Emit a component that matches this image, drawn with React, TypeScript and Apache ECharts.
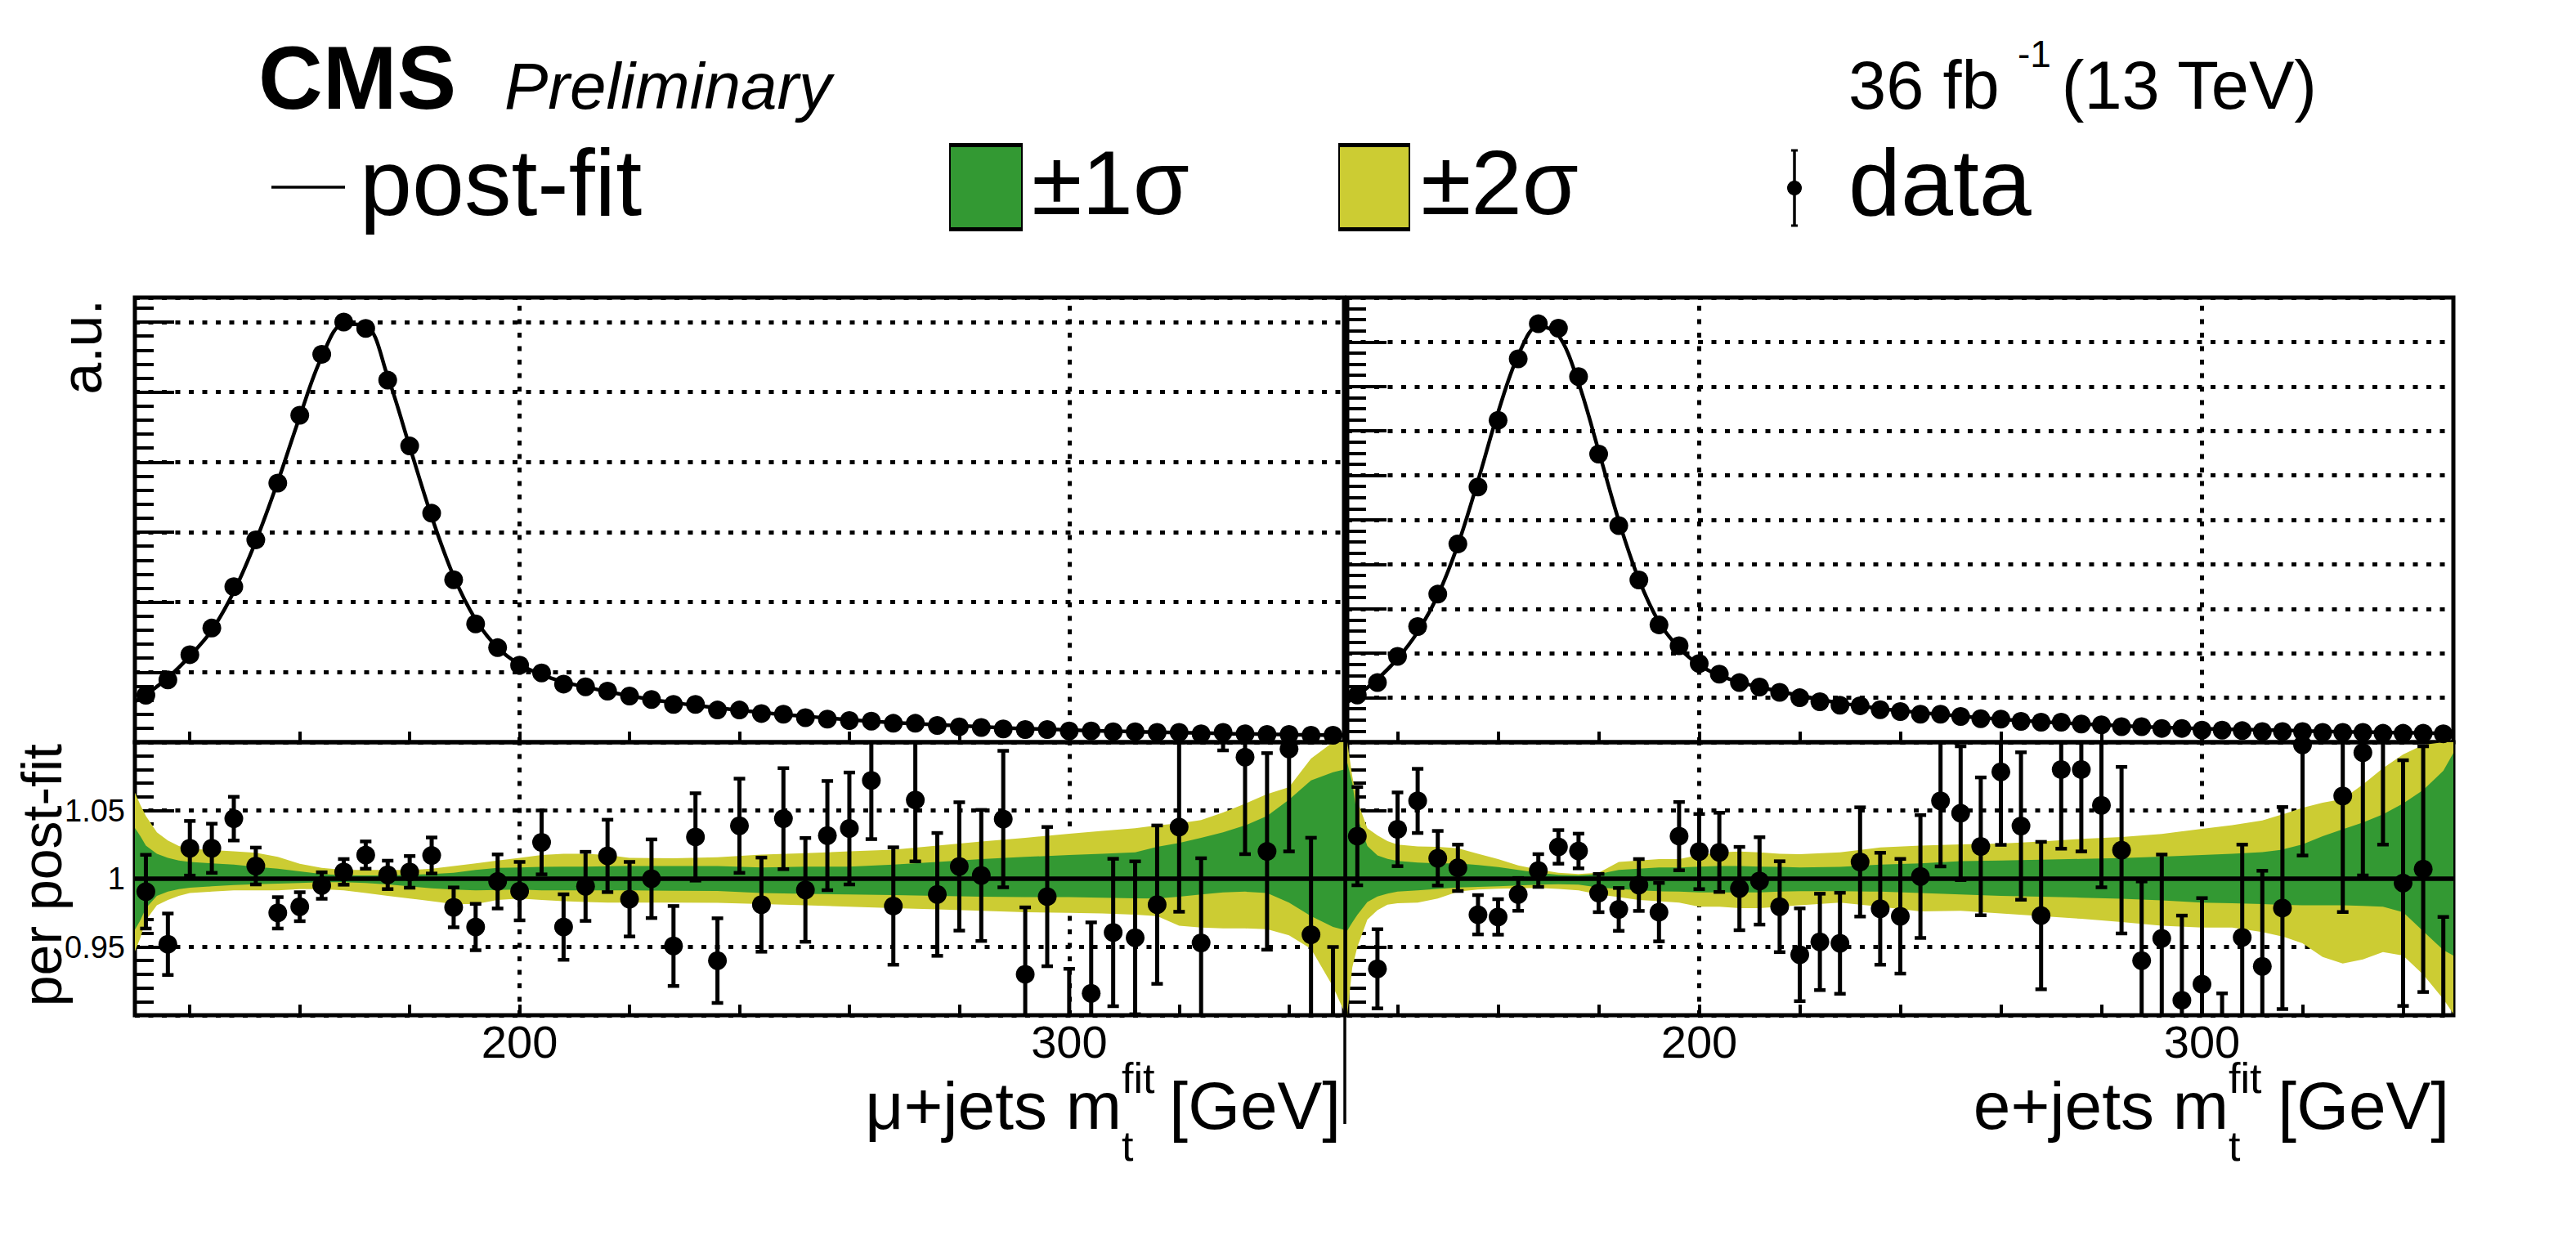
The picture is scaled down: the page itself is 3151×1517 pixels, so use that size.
import React, { useEffect, useRef } from 'react';
import * as echarts from 'echarts';

const FONT = '"Liberation Sans", Arial, Helvetica, sans-serif';

// ---------- axes / ticks ----------
const X_MIN = 130;
const X_MAX = 350;
const X_TICKS = [140, 160, 180, 200, 220, 240, 260, 280, 300, 320, 340];
const X_LABELS = [200, 300];
const X_GRID = [200, 300];
const RATIO_MIN = 0.9;
const RATIO_MAX = 1.1;
const MU_YMAX = 6.35;
const E_YMAX = 10;

// bin centres (4 GeV bins from 130 to 350)
const BIN_CENTERS = Array.from({ length: 55 }, (_, i) => 132 + 4 * i);

// ---------- upper panels: data (a.u.) ----------
const MU_DATA = [
  0.67, 0.89, 1.25, 1.63, 2.22, 2.89, 3.70, 4.67, 5.54, 6.00,
  5.91, 5.17, 4.23, 3.27, 2.32, 1.69, 1.35, 1.10, 0.99, 0.83,
  0.79, 0.73, 0.66, 0.61, 0.54, 0.54, 0.46, 0.46, 0.41, 0.40,
  0.35, 0.33, 0.31, 0.30, 0.27, 0.27, 0.24, 0.22, 0.21, 0.19,
  0.18, 0.18, 0.16, 0.16, 0.15, 0.15, 0.14, 0.14, 0.12, 0.14,
  0.12, 0.11, 0.11, 0.10, 0.10,
];
const E_DATA = [
  1.06, 1.34, 1.93, 2.60, 3.33, 4.46, 5.74, 7.24, 8.62, 9.41,
  9.31, 8.22, 6.48, 4.87, 3.65, 2.64, 2.17, 1.77, 1.53, 1.34,
  1.24, 1.12, 1.00, 0.91, 0.83, 0.82, 0.73, 0.69, 0.63, 0.63,
  0.58, 0.53, 0.52, 0.47, 0.45, 0.45, 0.41, 0.39, 0.35, 0.35,
  0.31, 0.31, 0.27, 0.27, 0.26, 0.24, 0.24, 0.24, 0.22, 0.22,
  0.22, 0.20, 0.20, 0.20, 0.19,
];

// post-fit curve: left edge, bin centres, right edge
const FIT_X = [X_MIN, ...BIN_CENTERS, X_MAX];
const MU_FIT = [
  0.58,
  0.68, 0.92, 1.23, 1.60, 2.15, 2.87, 3.72, 4.65, 5.50, 5.97,
  5.95, 5.22, 4.22, 3.22, 2.37, 1.75, 1.35, 1.11, 0.965, 0.86,
  0.79, 0.72, 0.665, 0.61, 0.565, 0.525, 0.49, 0.455, 0.425, 0.395,
  0.37, 0.345, 0.32, 0.30, 0.28, 0.265, 0.25, 0.235, 0.22, 0.205,
  0.195, 0.185, 0.175, 0.165, 0.157, 0.15, 0.143, 0.136, 0.13, 0.124,
  0.118, 0.113, 0.108, 0.104, 0.10,
  0.098,
];
const E_FIT = [
  0.90,
  1.05, 1.42, 1.88, 2.48, 3.30, 4.44, 5.88, 7.42, 8.70, 9.36,
  9.15, 8.08, 6.55, 4.98, 3.66, 2.70, 2.12, 1.74, 1.50, 1.35,
  1.24, 1.14, 1.05, 0.96, 0.88, 0.815, 0.755, 0.71, 0.665, 0.625,
  0.585, 0.55, 0.515, 0.485, 0.46, 0.435, 0.41, 0.39, 0.37, 0.35,
  0.335, 0.32, 0.305, 0.295, 0.285, 0.275, 0.265, 0.255, 0.245, 0.235,
  0.228, 0.22, 0.213, 0.207, 0.20,
  0.198,
];

// ---------- ratio panels: data / post-fit ----------
const MU_RATIO = [
  0.9905, 0.952, 1.0223, 1.0223, 1.044, 1.0093, 0.975, 0.9795, 0.995, 1.005,
  1.0173, 1.0028, 1.005, 1.017, 0.979, 0.9646, 0.998, 0.9909, 1.0266, 0.9646,
  0.9944, 1.0167, 0.985, 1.0, 0.9507, 1.0306, 0.940, 1.0388, 0.981, 1.044,
  0.9918, 1.0316, 1.0368, 1.072, 0.980, 1.0577, 0.9885, 1.009, 1.0024, 1.0437,
  0.930, 0.9869, 0.880, 0.916, 0.9606, 0.9567, 0.981, 1.0378, 0.953, 1.160,
  1.089, 1.020, 1.095, 0.959, 0.870,
];
const MU_RATIO_ERR = [
  0.027, 0.0225, 0.020, 0.018, 0.016, 0.0135, 0.0115, 0.0106, 0.0097, 0.0094,
  0.010, 0.0104, 0.0116, 0.0132, 0.0146, 0.017, 0.0198, 0.0214, 0.0234, 0.024,
  0.0253, 0.0265, 0.0273, 0.0288, 0.0293, 0.032, 0.031, 0.0345, 0.0345, 0.037,
  0.038, 0.040, 0.041, 0.043, 0.043, 0.045, 0.045, 0.047, 0.048, 0.050,
  0.049, 0.051, 0.054, 0.052, 0.054, 0.056, 0.058, 0.062, 0.062, 0.066,
  0.071, 0.072, 0.075, 0.071, 0.080,
];
const E_RATIO = [
  1.0312, 0.934, 1.0362, 1.057, 1.015, 1.008, 0.9736, 0.972, 0.9885, 1.006,
  1.0233, 1.0203, 0.9895, 0.9775, 0.9954, 0.9755, 1.0312, 1.0199, 1.0193, 0.9928,
  0.9984, 0.9795, 0.9443, 0.9537, 0.9527, 1.0123, 0.978, 0.9725, 1.0016, 1.057,
  1.048, 1.0237, 1.0783, 1.0386, 0.973, 1.080, 1.080, 1.0537, 1.0209, 0.940,
  0.9563, 0.911, 0.9228, 0.852, 0.957, 0.9358, 0.9785, 1.098, 1.190, 1.0606,
  1.0924, 1.115, 0.9968, 1.007, 0.880,
];
const E_RATIO_ERR = [
  0.036, 0.029, 0.027, 0.0235, 0.020, 0.017, 0.0144, 0.013, 0.012, 0.012,
  0.0123, 0.0127, 0.014, 0.0157, 0.019, 0.0214, 0.025, 0.0275, 0.029, 0.0305,
  0.032, 0.0333, 0.034, 0.0353, 0.037, 0.040, 0.041, 0.042, 0.045, 0.048,
  0.049, 0.0505, 0.0535, 0.054, 0.054, 0.058, 0.060, 0.060, 0.061, 0.058,
  0.0614, 0.062, 0.063, 0.064, 0.068, 0.070, 0.074, 0.081, 0.083, 0.085,
  0.090, 0.090, 0.090, 0.090, 0.092,
];
const POST_FIT_RATIO = 1;

// ---------- uncertainty bands (relative to post-fit) ----------
const BAND_X = [
  130, 131, 132, 134, 136, 138, 140, 144, 148, 152, 156, 160, 164, 168, 172, 176, 180,
  184, 188, 192, 196, 200, 204, 208, 212, 216, 220, 228, 236, 244, 252, 260, 268, 276,
  284, 292, 300, 306, 312, 316, 320, 324, 328, 332, 336, 340, 344, 348, 350,
];
const MU_2S_UP = [
  1.063, 1.054, 1.046, 1.034, 1.028, 1.024, 1.022,
  1.021, 1.020, 1.019, 1.016, 1.011, 1.008, 1.0064, 1.0064, 1.0064, 1.0064,
  1.0074, 1.0093, 1.0113, 1.0133, 1.0153, 1.0173, 1.0183, 1.0183, 1.0173, 1.0153,
  1.0149, 1.0157, 1.0177, 1.0187, 1.020, 1.0213, 1.0243, 1.0272, 1.030, 1.033,
  1.035, 1.037, 1.039, 1.0406, 1.043, 1.0485, 1.055, 1.062, 1.067, 1.088,
  1.105, 1.11,
];
const MU_2S_DN = [
  0.9467, 0.9567, 0.9696, 0.9805, 0.9845, 0.9875, 0.9895,
  0.9905, 0.9915, 0.9915, 0.9915, 0.9924, 0.9924, 0.9915, 0.9895, 0.9875, 0.9855,
  0.9835, 0.9815, 0.9815, 0.9845, 0.9855, 0.9845, 0.9835, 0.9829, 0.9825, 0.9825,
  0.9825, 0.9823, 0.9815, 0.9805, 0.9795, 0.9785, 0.9775, 0.9765, 0.9755, 0.975,
  0.9745, 0.9736, 0.9726, 0.9656, 0.9642, 0.9636, 0.9636, 0.963, 0.9586, 0.9487,
  0.921, 0.903,
];
const MU_1S_UP = [
  1.0372, 1.0312, 1.0243, 1.0183, 1.0153, 1.0133, 1.0123,
  1.0113, 1.0103, 1.0087, 1.0074, 1.0054, 1.0034, 1.0024, 1.0024, 1.0024, 1.0028,
  1.0034, 1.0044, 1.0064, 1.008, 1.0083, 1.0087, 1.0089, 1.0089, 1.0091, 1.0093,
  1.0093, 1.0093, 1.0083, 1.0089, 1.0089, 1.0103, 1.0123, 1.0143, 1.016, 1.0173,
  1.0183, 1.0193, 1.0233, 1.0262, 1.030, 1.034, 1.039, 1.046, 1.058, 1.072,
  1.078, 1.080,
];
const MU_1S_DN = [
  0.9626, 0.9696, 0.9785, 0.9875, 0.9905, 0.9924, 0.9934,
  0.9944, 0.9954, 0.996, 0.9964, 0.9968, 0.9974, 0.9974, 0.9968, 0.9958, 0.9944,
  0.993, 0.992, 0.9915, 0.9918, 0.992, 0.9915, 0.9915, 0.9915, 0.9915, 0.9915,
  0.9912, 0.991, 0.9895, 0.9889, 0.9885, 0.988, 0.9875, 0.9869, 0.9865, 0.9865,
  0.9861, 0.9857, 0.9855, 0.9869, 0.9885, 0.99, 0.9905, 0.9895, 0.9825, 0.9726,
  0.9646, 0.9626,
];
const E_2S_UP = [
  1.11, 1.075, 1.057, 1.037, 1.0317, 1.0275, 1.025,
  1.0237, 1.0233, 1.0223, 1.0183, 1.0143, 1.0097, 1.0068, 1.0044, 1.0034, 1.0044,
  1.0123, 1.0133, 1.0143, 1.0143, 1.0173, 1.0193, 1.0199, 1.0193, 1.0183, 1.0179,
  1.0193, 1.0229, 1.0243, 1.0252, 1.0258, 1.0272, 1.0292, 1.0306, 1.0328, 1.0366,
  1.0392, 1.0427, 1.0471, 1.052, 1.0557, 1.0584, 1.069, 1.081, 1.091, 1.098,
  1.11, 1.12,
];
const E_2S_DN = [
  0.895, 0.935, 0.950, 0.970, 0.977, 0.981, 0.982,
  0.9825, 0.9855, 0.9905, 0.992, 0.9926, 0.993, 0.9932, 0.9925, 0.9915, 0.9885,
  0.9865, 0.9845, 0.9835, 0.9825, 0.9795, 0.9795, 0.9785, 0.9785, 0.9795, 0.9805,
  0.9825, 0.9795, 0.976, 0.9765, 0.9746, 0.9726, 0.9706, 0.9682, 0.9656, 0.9642,
  0.9642, 0.961, 0.9577, 0.9527, 0.9427, 0.9378, 0.9408, 0.9463, 0.9437, 0.9298,
  0.9119, 0.901,
];
const E_1S_UP = [
  1.085, 1.07, 1.045, 1.024, 1.017, 1.0145, 1.013,
  1.0118, 1.0113, 1.0113, 1.010, 1.0085, 1.0065, 1.0044, 1.0028, 1.0024, 1.0034,
  1.0064, 1.0074, 1.0083, 1.0083, 1.0089, 1.0093, 1.0093, 1.0089, 1.0087, 1.0083,
  1.0087, 1.0103, 1.0113, 1.0129, 1.0133, 1.0139, 1.0145, 1.0151, 1.0161, 1.0173,
  1.0183, 1.0195, 1.0213, 1.0252, 1.0312, 1.0362, 1.0412, 1.0471, 1.0551, 1.065,
  1.079, 1.092,
];
const E_1S_DN = [
  0.962, 0.968, 0.9735, 0.983, 0.987, 0.989, 0.9905,
  0.9915, 0.9925, 0.9935, 0.994, 0.9944, 0.995, 0.9956, 0.996, 0.9956, 0.9935,
  0.9925, 0.9915, 0.9908, 0.9905, 0.99, 0.99, 0.99, 0.99, 0.9905, 0.9909,
  0.9909, 0.9905, 0.9895, 0.9885, 0.9875, 0.9869, 0.9861, 0.9853, 0.9841, 0.9825,
  0.9821, 0.9815, 0.9809, 0.9805, 0.9805, 0.9805, 0.9801, 0.9795, 0.9755, 0.9616,
  0.9477, 0.9437,
];

const GREEN = '#339933';
const YELLOW = '#cccc33';
const BLACK = '#000000';

const clampR = (v: number) => Math.min(RATIO_MAX, Math.max(RATIO_MIN, v));

const DOT = [6, 10.5];

function xAxis(gridIndex: number, labels: boolean) {
  return {
    type: 'value', gridIndex, min: X_MIN, max: X_MAX,
    axisLine: { show: false, onZero: false },
    axisTick: { show: true, inside: true, length: 13, customValues: X_TICKS, lineStyle: { color: BLACK, width: 4 } },
    axisLabel: labels
      ? { show: true, customValues: X_LABELS, fontSize: 56, fontFamily: FONT, color: BLACK, margin: 4 }
      : { show: false },
    splitLine: { show: false },
  };
}

function yMajor(gridIndex: number, min: number, max: number, interval: number, labels: boolean) {
  return {
    type: 'value', gridIndex, position: 'left', min, max, interval,
    axisLine: { show: false, onZero: false },
    axisTick: { show: true, inside: true, length: 48, lineStyle: { color: BLACK, width: 4 } },
    axisLabel: labels
      ? {
          show: true, fontSize: 38, fontFamily: FONT, color: BLACK, margin: 12,
          formatter: (v: number) => (v < 0.93 || v > 1.07 ? '' : String(Math.round(v * 100) / 100)),
        }
      : { show: false },
    splitLine: { show: true, lineStyle: { color: BLACK, width: 5, type: DOT } },
  };
}

function yMinor(gridIndex: number, min: number, max: number, interval: number) {
  return {
    type: 'value', gridIndex, position: 'left', min, max, interval,
    axisLine: { show: false, onZero: false },
    axisTick: { show: true, inside: true, length: 23, lineStyle: { color: BLACK, width: 4 } },
    axisLabel: { show: false },
    splitLine: { show: false },
  };
}

const vGrid = {
  silent: true, symbol: 'none', z: 1,
  label: { show: false },
  emphasis: { disabled: true },
  lineStyle: { color: BLACK, width: 5, type: DOT },
  data: X_GRID.map((v) => ({ xAxis: v })),
};

function bandSeries(xi: number, yi: number, lo: number[], hi: number[], color: string, z: number) {
  return {
    type: 'custom', xAxisIndex: xi, yAxisIndex: yi, z, silent: true, clip: true,
    data: BAND_X.map((x, i) => [x, lo[i], hi[i]]),
    encode: { x: 0, y: [1, 2] },
    renderItem: (params: any, api: any) => {
      if (params.dataIndex !== 0) return { type: 'group', children: [] };
      const up = BAND_X.map((x, i) => api.coord([x, clampR(hi[i])]));
      const dn = BAND_X.map((x, i) => api.coord([x, clampR(lo[i])])).reverse();
      return { type: 'polygon', shape: { points: up.concat(dn) }, style: { fill: color } };
    },
  };
}

function errSeries(xi: number, yi: number, vals: number[], errs: number[]) {
  return {
    type: 'custom', xAxisIndex: xi, yAxisIndex: yi, z: 5, silent: true, clip: true,
    data: BIN_CENTERS.map((x, i) => [x, vals[i], errs[i]]),
    encode: { x: 0, y: 1 },
    renderItem: (params: any, api: any) => {
      const x = api.value(0);
      const v = api.value(1);
      const e = api.value(2);
      const lo = Math.max(v - e, RATIO_MIN);
      const hi = Math.min(v + e, RATIO_MAX);
      if (lo >= hi) return { type: 'group', children: [] };
      const p1 = api.coord([x, lo]);
      const p2 = api.coord([x, hi]);
      const children: any[] = [
        { type: 'line', shape: { x1: p1[0], y1: p1[1], x2: p2[0], y2: p2[1] }, style: { stroke: BLACK, lineWidth: 5 } },
      ];
      if (v - e >= RATIO_MIN) children.push({ type: 'line', shape: { x1: p1[0] - 7, y1: p1[1], x2: p1[0] + 7, y2: p1[1] }, style: { stroke: BLACK, lineWidth: 4.5 } });
      if (v + e <= RATIO_MAX) children.push({ type: 'line', shape: { x1: p2[0] - 7, y1: p2[1], x2: p2[0] + 7, y2: p2[1] }, style: { stroke: BLACK, lineWidth: 4.5 } });
      return { type: 'group', children };
    },
  };
}

function points(xi: number, yi: number, vals: number[]) {
  return {
    type: 'scatter', xAxisIndex: xi, yAxisIndex: yi, z: 6, silent: true, clip: true,
    symbol: 'circle', symbolSize: 23,
    itemStyle: { color: BLACK, opacity: 1 },
    emphasis: { disabled: true },
    data: BIN_CENTERS.map((x, i) => [x, vals[i]]),
  };
}

function fitLine(xi: number, yi: number, vals: number[]) {
  return {
    type: 'line', xAxisIndex: xi, yAxisIndex: yi, z: 4, silent: true,
    smooth: 0.35, symbol: 'none',
    lineStyle: { color: BLACK, width: 4.5 },
    data: FIT_X.map((x, i) => [x, vals[i]]),
    markLine: vGrid,
  };
}

function ratioLine(xi: number, yi: number) {
  return {
    type: 'line', xAxisIndex: xi, yAxisIndex: yi, z: 4, silent: true,
    symbol: 'none',
    lineStyle: { color: BLACK, width: 5.5 },
    data: [[X_MIN, POST_FIT_RATIO], [X_MAX, POST_FIT_RATIO]],
    markLine: vGrid,
  };
}

function txt(text: string, x: number, y: number, size: number, align: string, extra: any = {}) {
  return {
    type: 'text', x, y, z: 100, silent: true, ...extra,
    style: {
      text, fill: BLACK, fontSize: size, fontFamily: FONT,
      align, verticalAlign: 'middle', ...(extra.style || {}),
    },
  };
}

function buildOption() {
  const gridStyle = { show: true, borderColor: BLACK, borderWidth: 5, backgroundColor: 'transparent' };
  return {
    animation: false,
    grid: [
      { left: 165, top: 364, width: 1479, height: 544, ...gridStyle },
      { left: 165, top: 908, width: 1479, height: 334, ...gridStyle },
      { left: 1648, top: 364, width: 1353, height: 544, ...gridStyle },
      { left: 1648, top: 908, width: 1353, height: 334, ...gridStyle },
    ],
    xAxis: [xAxis(0, false), xAxis(1, true), xAxis(2, false), xAxis(3, true)],
    yAxis: [
      yMajor(0, 0, MU_YMAX, 1, false), yMinor(0, 0, MU_YMAX, 0.2),
      yMajor(1, RATIO_MIN, RATIO_MAX, 0.05, true), yMinor(1, RATIO_MIN, RATIO_MAX, 0.01),
      yMajor(2, 0, E_YMAX, 1, false), yMinor(2, 0, E_YMAX, 0.25),
      yMajor(3, RATIO_MIN, RATIO_MAX, 0.05, false), yMinor(3, RATIO_MIN, RATIO_MAX, 0.01),
    ],
    series: [
      fitLine(0, 0, MU_FIT),
      points(0, 0, MU_DATA),
      bandSeries(1, 2, MU_2S_DN, MU_2S_UP, YELLOW, 2),
      bandSeries(1, 2, MU_1S_DN, MU_1S_UP, GREEN, 3),
      ratioLine(1, 2),
      errSeries(1, 2, MU_RATIO, MU_RATIO_ERR),
      points(1, 2, MU_RATIO),
      fitLine(2, 4, E_FIT),
      points(2, 4, E_DATA),
      bandSeries(3, 6, E_2S_DN, E_2S_UP, YELLOW, 2),
      bandSeries(3, 6, E_1S_DN, E_1S_UP, GREEN, 3),
      ratioLine(3, 6),
      errSeries(3, 6, E_RATIO, E_RATIO_ERR),
      points(3, 6, E_RATIO),
    ],
    graphic: [
      // header
      txt('CMS', 316, 95, 109, 'left', { style: { fontWeight: 'bold' } }),
      txt('Preliminary', 617, 105, 80, 'left', { style: { fontStyle: 'italic' } }),
      txt('36 fb', 2261, 104, 83, 'left'),
      txt('-1', 2468, 66, 46, 'left'),
      txt('(13 TeV)', 2834, 104, 83, 'right'),
      // legend
      { type: 'line', z: 100, silent: true, shape: { x1: 332, y1: 229, x2: 422, y2: 229 }, style: { stroke: BLACK, lineWidth: 3.5 } },
      txt('post-fit', 440, 223, 115, 'left'),
      { type: 'rect', z: 100, silent: true, shape: { x: 1162, y: 177, width: 88, height: 104 }, style: { fill: GREEN, stroke: BLACK, lineWidth: 2 } },
      { type: 'rect', z: 101, silent: true, shape: { x: 1161, y: 175, width: 90, height: 5 }, style: { fill: BLACK } },
      { type: 'rect', z: 101, silent: true, shape: { x: 1161, y: 278, width: 90, height: 5 }, style: { fill: BLACK } },
      txt('±1σ', 1262, 223, 112, 'left'),
      { type: 'rect', z: 100, silent: true, shape: { x: 1638, y: 177, width: 86, height: 104 }, style: { fill: YELLOW, stroke: BLACK, lineWidth: 2 } },
      { type: 'rect', z: 101, silent: true, shape: { x: 1637, y: 175, width: 88, height: 5 }, style: { fill: BLACK } },
      { type: 'rect', z: 101, silent: true, shape: { x: 1637, y: 278, width: 88, height: 5 }, style: { fill: BLACK } },
      txt('±2σ', 1738, 223, 112, 'left'),
      { type: 'line', z: 100, silent: true, shape: { x1: 2195, y1: 183, x2: 2195, y2: 277 }, style: { stroke: BLACK, lineWidth: 3.5 } },
      { type: 'line', z: 100, silent: true, shape: { x1: 2191, y1: 184, x2: 2199, y2: 184 }, style: { stroke: BLACK, lineWidth: 3 } },
      { type: 'line', z: 100, silent: true, shape: { x1: 2191, y1: 276, x2: 2199, y2: 276 }, style: { stroke: BLACK, lineWidth: 3 } },
      { type: 'circle', z: 101, silent: true, shape: { cx: 2195, cy: 230, r: 9 }, style: { fill: BLACK } },
      txt('data', 2261, 223, 115, 'left'),
      // y titles
      txt('a.u.', 100, 366, 70, 'right', { rotation: Math.PI / 2 }),
      txt('per post-fit', 51, 910, 68, 'right', { rotation: Math.PI / 2 }),
      // x titles
      txt('μ+jets m', 1372, 1352, 82, 'right'),
      txt('fit', 1372, 1319, 52, 'left'),
      txt('t', 1372, 1402, 52, 'left'),
      txt('[GeV]', 1640, 1352, 82, 'right'),
      txt('e+jets m', 2726, 1352, 82, 'right'),
      txt('fit', 2726, 1319, 52, 'left'),
      txt('t', 2726, 1402, 52, 'left'),
      txt('[GeV]', 2996, 1352, 82, 'right'),
      // pad separator
      { type: 'line', z: 100, silent: true, shape: { x1: 1645, y1: 364, x2: 1645, y2: 1375 }, style: { stroke: BLACK, lineWidth: 3.5 } },
    ],
  };
}

export default function App() {
  const ref = useRef<HTMLDivElement>(null);
  useEffect(() => {
    document.body.style.margin = '0';
    const chart = echarts.init(ref.current as HTMLDivElement, null, { renderer: 'svg' });
    chart.setOption(buildOption() as any);
    return () => chart.dispose();
  }, []);
  return <div ref={ref} style={{ width: 3151, height: 1517 }} />;
}
